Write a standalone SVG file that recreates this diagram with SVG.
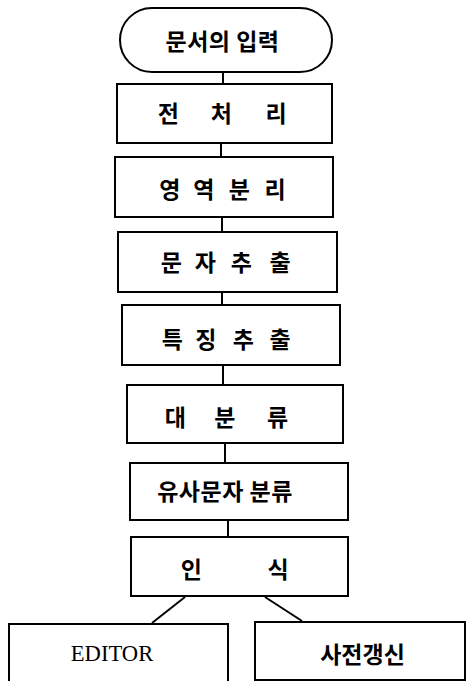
<svg xmlns="http://www.w3.org/2000/svg" width="466" height="681" viewBox="0 0 466 681">
<style>
.b{fill:#fff;stroke:#000;stroke-width:2}
.t{font-family:"Noto Sans CJK KR","Noto Sans",sans-serif;font-size:23px;font-weight:700;fill:#000;text-anchor:middle;dominant-baseline:central}
.e{font-family:"Liberation Serif",serif;font-size:22.6px;fill:#000;text-anchor:middle;dominant-baseline:central}
.c{stroke:#000;stroke-width:2;fill:none}
</style>
<rect width="466" height="681" fill="#fff"/>
<g id="connectors">
<line class="c" x1="223" y1="72" x2="223" y2="84"/>
<line class="c" x1="221" y1="143" x2="221" y2="157"/>
<line class="c" x1="222" y1="217" x2="222" y2="232"/>
<line class="c" x1="222" y1="292" x2="222" y2="305"/>
<line class="c" x1="223" y1="365" x2="223" y2="385"/>
<line class="c" x1="225" y1="443" x2="225" y2="463"/>
<line class="c" x1="228" y1="520" x2="228" y2="537"/>
<line class="c" x1="185" y1="597" x2="152" y2="623"/>
<line class="c" x1="265" y1="597" x2="302" y2="621"/>
</g>
<g id="start">
<rect class="b" x="120" y="8" width="212" height="64" rx="32" ry="32"/>
<text class="t" x="222.5" y="40" letter-spacing="0.5">문서의 입력</text>
</g>
<g id="preprocess">
<rect class="b" x="117" y="84" width="215" height="59"/>
<text class="t" y="112"><tspan x="171">전</tspan> <tspan x="224">처</tspan> <tspan x="276">리</tspan></text>
</g>
<g id="region">
<rect class="b" x="115" y="157" width="218" height="60"/>
<text class="t" y="187.5"><tspan x="172.5">영</tspan> <tspan x="206.5">역</tspan> <tspan x="242">분</tspan> <tspan x="275">리</tspan></text>
</g>
<g id="charext">
<rect class="b" x="118" y="232" width="219" height="60"/>
<text class="t" y="261"><tspan x="174">문</tspan> <tspan x="208">자</tspan> <tspan x="244">추</tspan> <tspan x="280">출</tspan></text>
</g>
<g id="featext">
<rect class="b" x="122" y="305" width="218" height="60"/>
<text class="t" y="338"><tspan x="175">특</tspan> <tspan x="208.5">징</tspan> <tspan x="246">추</tspan> <tspan x="280">출</tspan></text>
</g>
<g id="coarse">
<rect class="b" x="127" y="385" width="216" height="58"/>
<text class="t" y="416"><tspan x="178">대</tspan> <tspan x="227.5">분</tspan> <tspan x="277.5">류</tspan></text>
</g>
<g id="similar">
<rect class="b" x="130" y="463" width="218" height="57"/>
<text class="t" x="225" y="490" letter-spacing="0.5">유사문자 분류</text>
</g>
<g id="recog">
<rect class="b" x="131" y="537" width="217" height="59"/>
<text class="t" y="567.5"><tspan x="194">인</tspan> <tspan x="278">식</tspan></text>
</g>
<g id="editor">
<rect class="b" x="9" y="624" width="219" height="60"/>
<text class="e" x="112" y="653">EDITOR</text>
</g>
<g id="dict">
<rect class="b" x="255" y="622" width="210" height="58"/>
<text class="t" x="362.5" y="652.5" font-size="24">사전갱신</text>
</g>
</svg>
